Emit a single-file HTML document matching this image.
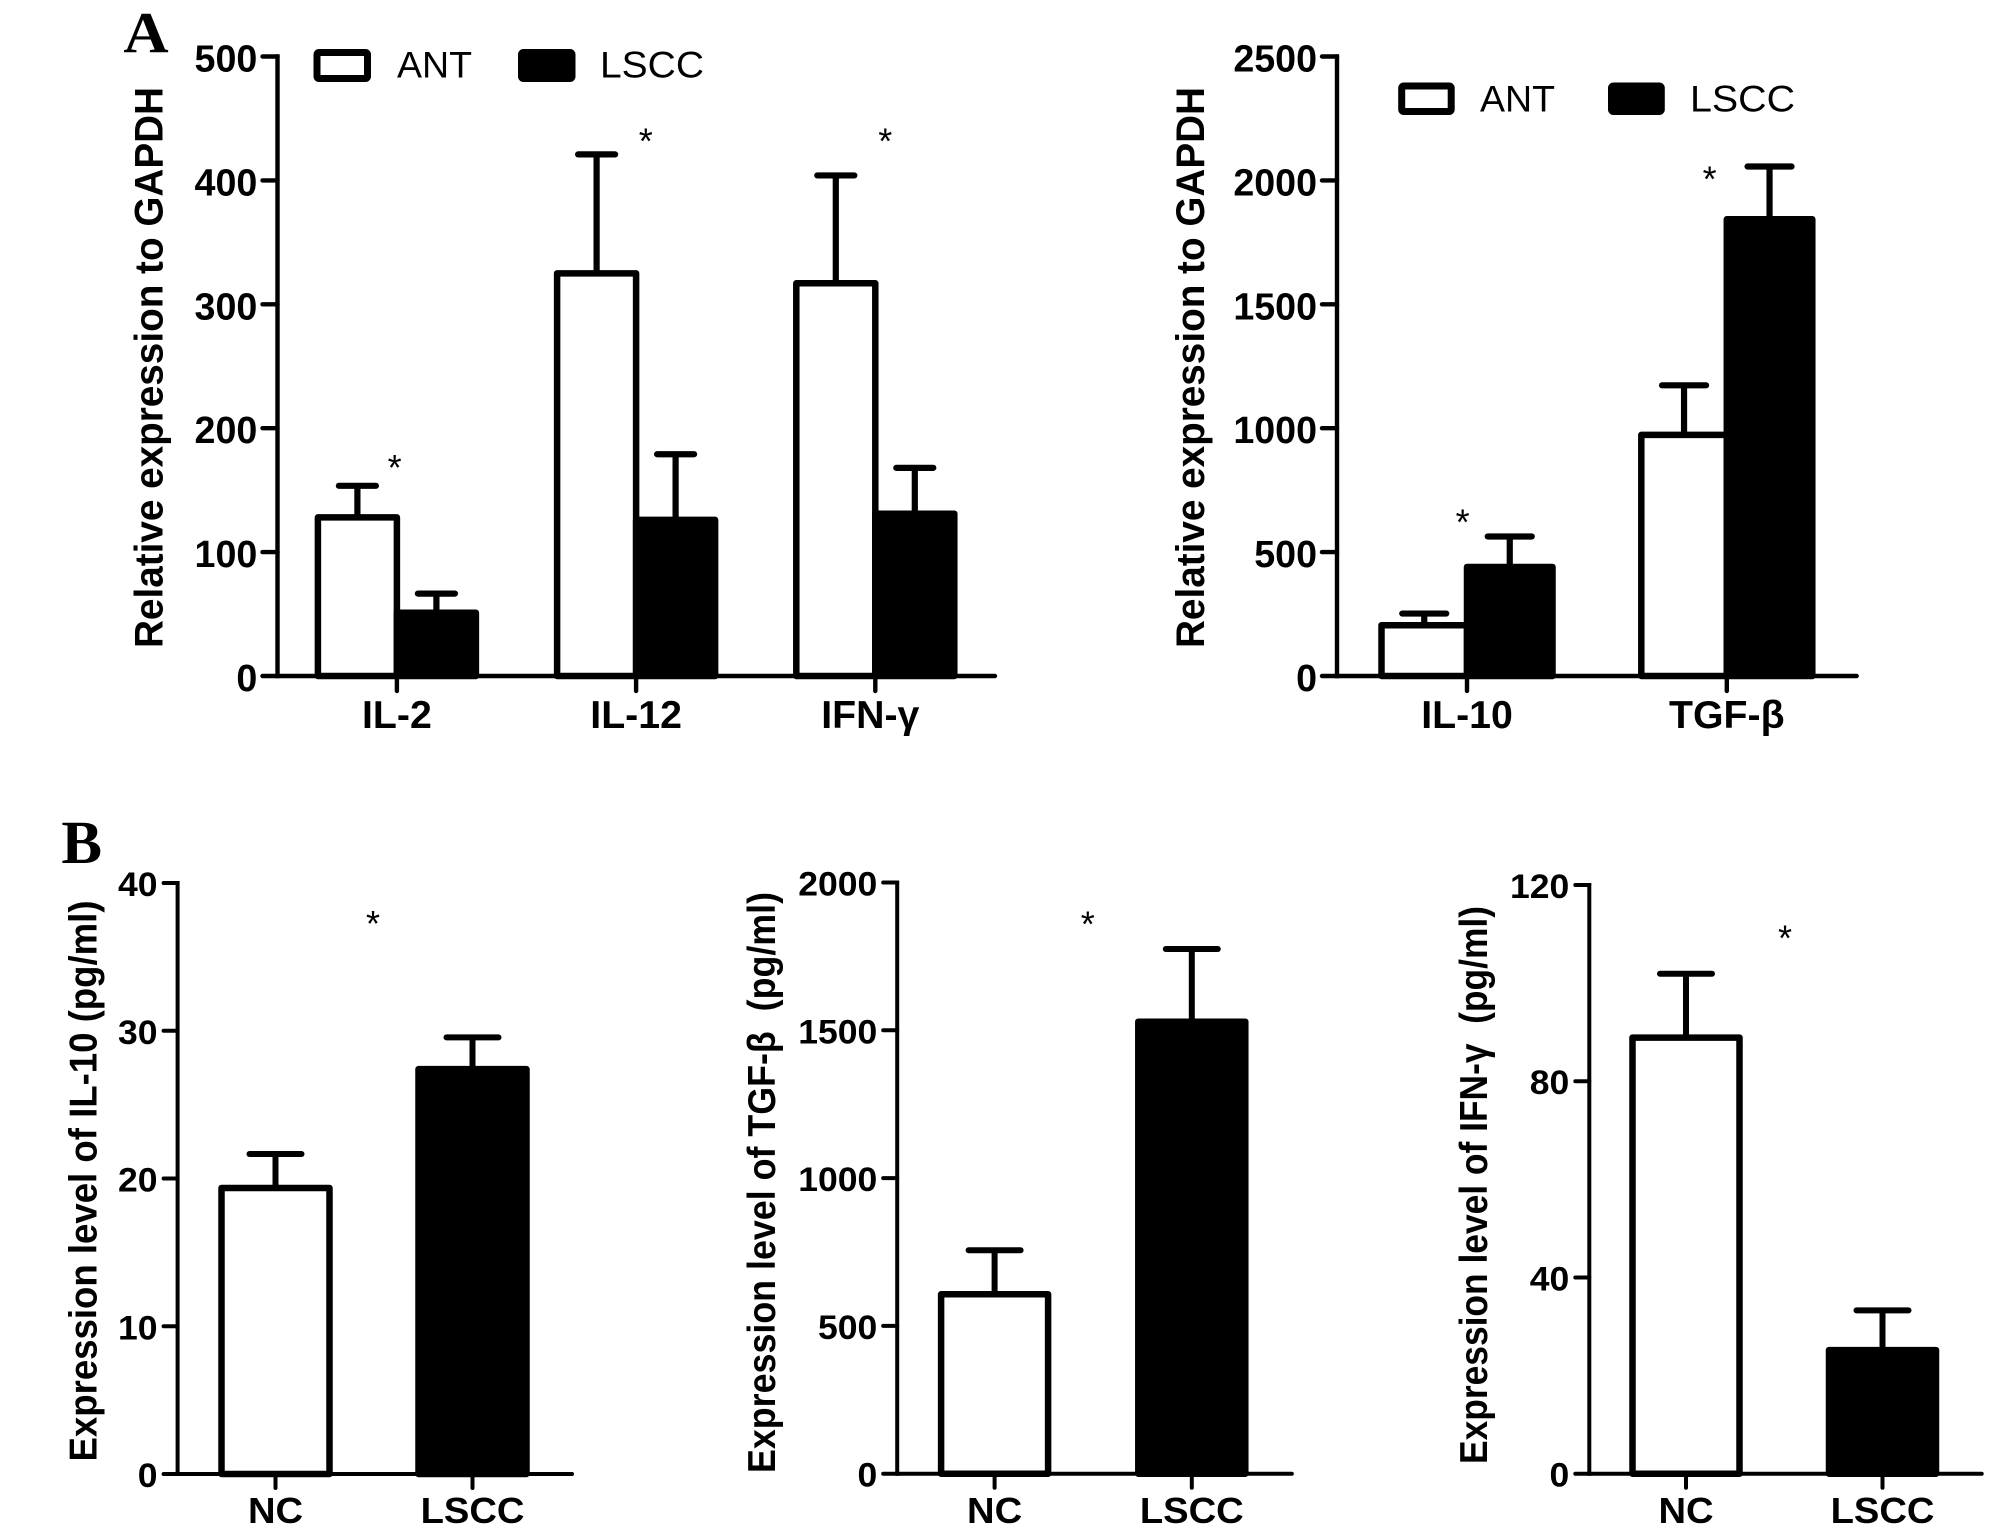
<!DOCTYPE html>
<html lang="en">
<head>
<meta charset="utf-8">
<title>Cytokine expression in LSCC</title>
<style>
html,body{margin:0;padding:0;background:#fff;}
svg{display:block;font-family:"Liberation Sans",Arial,sans-serif;}
text{fill:#000;}
</style>
</head>
<body>
<svg id="figure" width="2008" height="1540" viewBox="0 0 2008 1540" xmlns="http://www.w3.org/2000/svg">
  <rect x="0" y="0" width="2008" height="1540" fill="#fff"/>
  <text transform="translate(146 52) scale(1.08 1)" text-anchor="middle" font-family="Liberation Serif" font-weight="700" font-size="58">A</text>
  <text x="81.7" y="863" text-anchor="middle" font-family="Liberation Serif" font-weight="700" font-size="61">B</text>

  <g>
    <rect x="317" y="52.5" width="50.5" height="26" rx="2" fill="#fff" stroke="#000" stroke-width="7"/>
    <text x="397" y="77.5" font-size="37" textLength="75" lengthAdjust="spacingAndGlyphs">ANT</text>
    <rect x="521.5" y="52.5" width="50.5" height="26" rx="2" fill="#000" stroke="#000" stroke-width="7"/>
    <text x="600" y="77.5" font-size="37" textLength="104" lengthAdjust="spacingAndGlyphs">LSCC</text>
  </g>
  <g>
    <rect x="1401.7" y="86" width="49.5" height="25.5" rx="2" fill="#fff" stroke="#000" stroke-width="7"/>
    <text x="1480" y="111.5" font-size="37" textLength="75" lengthAdjust="spacingAndGlyphs">ANT</text>
    <rect x="1611.5" y="86" width="49.8" height="25.5" rx="2" fill="#000" stroke="#000" stroke-width="7"/>
    <text x="1690" y="111.5" font-size="37" textLength="105" lengthAdjust="spacingAndGlyphs">LSCC</text>
  </g>

  <g font-size="36" text-anchor="middle">
    <text x="394.6" y="480">*</text>
    <text x="645.8" y="153.7">*</text>
    <text x="885.2" y="153.7">*</text>
    <text x="1462.6" y="534.7">*</text>
    <text x="1709.6" y="191.5">*</text>
    <text x="373" y="936">*</text>
    <text x="1087.8" y="936.4">*</text>
    <text x="1785" y="950.7">*</text>
  </g>
</svg>

<script>
// Panel A, left chart
const proinflammatoryCategories = ['IL-2', 'IL-12', 'IFN-γ'];
const proinflammatoryAnt = [128, 325, 317];
const proinflammatoryAntError = [25.5, 96, 87];
const proinflammatoryLscc = [51, 126, 131];
const proinflammatoryLsccError = [15.5, 53, 37];
const proinflammatoryTicks = [0, 100, 200, 300, 400, 500];

// Panel A, right chart
const antiInflammatoryCategories = ['IL-10', 'TGF-β'];
const antiInflammatoryAnt = [205, 973];
const antiInflammatoryAntError = [47, 200];
const antiInflammatoryLscc = [440, 1843];
const antiInflammatoryLsccError = [123, 213];
const antiInflammatoryTicks = [0, 500, 1000, 1500, 2000, 2500];

// Panel B charts
const serumCategories = ['NC', 'LSCC'];
const serumFills = ['#fff', '#000'];
const serumIl10Values = [19.36, 27.4];
const serumIl10Errors = [2.3, 2.15];
const serumIl10Ticks = [0, 10, 20, 30, 40];
const serumTgfValues = [607, 1529];
const serumTgfErrors = [149, 246];
const serumTgfTicks = [0, 500, 1000, 1500, 2000];
const serumIfnValues = [88.9, 25.2];
const serumIfnErrors = [13, 8.1];
const serumIfnTicks = [0, 40, 80, 120];

const SVG_NS = 'http://www.w3.org/2000/svg';
const figure = document.getElementById('figure');

function addLine(parent, name, x1, y1, x2, y2, width, cap) {
  const el = document.createElementNS(SVG_NS, 'line');
  
  
  el.setAttribute('x1', x1);
  el.setAttribute('y1', y1);
  el.setAttribute('x2', x2);
  el.setAttribute('y2', y2);
  el.setAttribute('stroke', '#000');
  el.setAttribute('stroke-width', width);
  el.setAttribute('stroke-linecap', cap || 'butt');
  parent.appendChild(el);
  return el;
}

function addBar(parent, name, left, right, top, bottom, fill, sw) {
  const el = document.createElementNS(SVG_NS, 'rect');
  
  
  el.setAttribute('x', left);
  el.setAttribute('y', top);
  el.setAttribute('width', right - left);
  el.setAttribute('height', Math.max(0, bottom - top));
  el.setAttribute('fill', fill);
  el.setAttribute('stroke', '#000');
  el.setAttribute('stroke-width', sw);
  el.setAttribute('stroke-linejoin', 'round');
  parent.appendChild(el);
  return el;
}

function addText(parent, name, str, x, y, opts) {
  const el = document.createElementNS(SVG_NS, 'text');
  
  
  el.setAttribute('font-size', opts.size);
  el.setAttribute('font-weight', 'bold');
  el.setAttribute('style', 'white-space:pre');
  if (opts.rotate) {
    el.setAttribute('transform', 'translate(' + x + ' ' + y + ') rotate(-90)');
    el.setAttribute('x', 0);
    el.setAttribute('y', 0);
    el.setAttribute('textLength', opts.length);
    el.setAttribute('lengthAdjust', 'spacingAndGlyphs');
  } else {
    el.setAttribute('transform', 'translate(' + x + ' ' + y + ') scale(' + (opts.stretch || 1) + ' 1)');
    el.setAttribute('x', 0);
    el.setAttribute('y', 0);
    el.setAttribute('text-anchor', opts.anchor || 'middle');
  }
  el.textContent = str;
  parent.appendChild(el);
  return el;
}

function drawChart(cfg) {
  const g = document.createElementNS(SVG_NS, 'g');
  
  
  figure.appendChild(g);

  const yMax = cfg.ticks[cfg.ticks.length - 1];
  const yScale = function (v) { return cfg.yZero - (v / yMax) * (cfg.yZero - cfg.yTop); };
  const xCenter = function (i) { return cfg.firstCenter + i * cfg.step; };

  cfg.categories.forEach(function (cat, i) {
    const c = xCenter(i);
    const slug = cat.toLowerCase();
    cfg.series.forEach(function (s) {
      const left = c + s.offset * cfg.barWidth;
      const right = left + cfg.barWidth;
      const mid = (left + right) / 2;
      const top = yScale(s.values[i]);
      const errTop = yScale(s.values[i] + s.errors[i]);
      const fill = s.fills ? s.fills[i] : s.fill;
      addLine(g, 'error-stem-' + s.key + '-' + slug, mid, top, mid, errTop, cfg.errWidth);
      addLine(g, 'error-cap-' + s.key + '-' + slug, mid - cfg.capHalf, errTop, mid + cfg.capHalf, errTop, cfg.errWidth, 'round');
      addBar(g, 'bar-' + s.key + '-' + slug, left, right, top, cfg.yZero, fill, cfg.outline);
    });
  });

  addLine(g, 'y-axis-line', cfg.axisX, cfg.yTop - cfg.axisWidth / 2, cfg.axisX, cfg.yZero + cfg.axisWidth / 2, cfg.axisWidth);
  addLine(g, 'x-axis-line', cfg.axisX, cfg.yZero, cfg.axisEnd, cfg.yZero, cfg.axisWidth, 'round');

  cfg.ticks.forEach(function (t) {
    const y = yScale(t);
    addLine(g, 'y-tick-' + t, cfg.axisX - cfg.tickLength, y, cfg.axisX, y, cfg.axisWidth, 'round');
    addText(g, 'y-tick-label-' + t, String(t), cfg.labelRight, y + cfg.tickBaseline, { size: cfg.tickSize, anchor: 'end', stretch: cfg.tickStretch });
  });

  cfg.categories.forEach(function (cat, i) {
    const c = xCenter(i);
    const slug = cat.toLowerCase();
    const nudge = (cfg.labelNudge && cfg.labelNudge[cat]) || 0;
    addLine(g, 'x-tick-' + slug, c, cfg.yZero, c, cfg.yZero + cfg.tickLength, cfg.axisWidth, 'round');
    addText(g, 'x-tick-label-' + slug, cat, c + nudge, cfg.xLabelBase, { size: cfg.catSize, stretch: cfg.catStretch });
  });

  addText(g, 'y-axis-title', cfg.title, cfg.titleX, cfg.titleBottom, { size: cfg.titleSize, rotate: true, length: cfg.titleLength });
}

const groupedStyle = {
  yTop: 56.5, yZero: 676, axisWidth: 4.4, tickLength: 15, errWidth: 6.2, outline: 6.5,
  tickBaseline: 15, tickSize: 38, tickStretch: 0.99, catSize: 38.5, catStretch: 1.02,
  xLabelBase: 728, titleSize: 40
};
const serumStyle = {
  axisWidth: 4, tickLength: 14, errWidth: 6, outline: 6.5, capHalf: 26,
  tickBaseline: 13, tickSize: 34.5, tickStretch: 1.03, catSize: 36, catStretch: 1.06,
  xLabelBase: 1523, titleSize: 39, barWidth: 107
};

drawChart(Object.assign({}, groupedStyle, {
  name: 'chart-proinflammatory-tissue',
  categories: proinflammatoryCategories,
  ticks: proinflammatoryTicks,
  series: [
    { key: 'ant', values: proinflammatoryAnt, errors: proinflammatoryAntError, fill: '#fff', offset: -1 },
    { key: 'lscc', values: proinflammatoryLscc, errors: proinflammatoryLsccError, fill: '#000', offset: 0 }
  ],
  axisX: 277.5, axisEnd: 995, firstCenter: 396.9, step: 239.2, barWidth: 79, capHalf: 18.5,
  labelNudge: { 'IFN-γ': -5 },
  labelRight: 257.3, title: 'Relative expression to GAPDH', titleX: 162.4, titleBottom: 648, titleLength: 561
}));

drawChart(Object.assign({}, groupedStyle, {
  name: 'chart-antiinflammatory-tissue',
  categories: antiInflammatoryCategories,
  ticks: antiInflammatoryTicks,
  series: [
    { key: 'ant', values: antiInflammatoryAnt, errors: antiInflammatoryAntError, fill: '#fff', offset: -1 },
    { key: 'lscc', values: antiInflammatoryLscc, errors: antiInflammatoryLsccError, fill: '#000', offset: 0 }
  ],
  axisX: 1337, axisEnd: 1856.7, firstCenter: 1467, step: 259.8, barWidth: 85.5, capHalf: 22,
  labelRight: 1317, title: 'Relative expression to GAPDH', titleX: 1203.8, titleBottom: 648, titleLength: 561
}));

drawChart(Object.assign({}, serumStyle, {
  name: 'chart-serum-il-10',
  categories: serumCategories,
  ticks: serumIl10Ticks,
  series: [
    { key: 'serum', values: serumIl10Values, errors: serumIl10Errors, fills: serumFills, offset: -0.5 }
  ],
  yTop: 883, yZero: 1474, axisX: 177.6, axisEnd: 572, firstCenter: 275.5, step: 197, barWidth: 108,
  labelRight: 157.5, title: 'Expression level of IL-10 (pg/ml)', titleX: 96.6, titleBottom: 1461.5, titleLength: 561
}));

drawChart(Object.assign({}, serumStyle, {
  name: 'chart-serum-tgf-beta',
  categories: serumCategories,
  ticks: serumTgfTicks,
  series: [
    { key: 'serum', values: serumTgfValues, errors: serumTgfErrors, fills: serumFills, offset: -0.5 }
  ],
  yTop: 882.5, yZero: 1473.7, axisX: 897.2, axisEnd: 1291.8, firstCenter: 994.6, step: 197.2,
  labelRight: 877.3, title: 'Expression level of TGF-β  (pg/ml)', titleX: 774.8, titleBottom: 1473, titleLength: 581
}));

drawChart(Object.assign({}, serumStyle, {
  name: 'chart-serum-ifn-gamma',
  categories: serumCategories,
  ticks: serumIfnTicks,
  series: [
    { key: 'serum', values: serumIfnValues, errors: serumIfnErrors, fills: serumFills, offset: -0.5 }
  ],
  yTop: 885, yZero: 1473.7, axisX: 1589.3, axisEnd: 1981.7, firstCenter: 1686, step: 196.5,
  labelRight: 1569.3, title: 'Expression level of IFN-γ  (pg/ml)', titleX: 1487, titleBottom: 1464, titleLength: 558
}));
</script>
</body>
</html>
